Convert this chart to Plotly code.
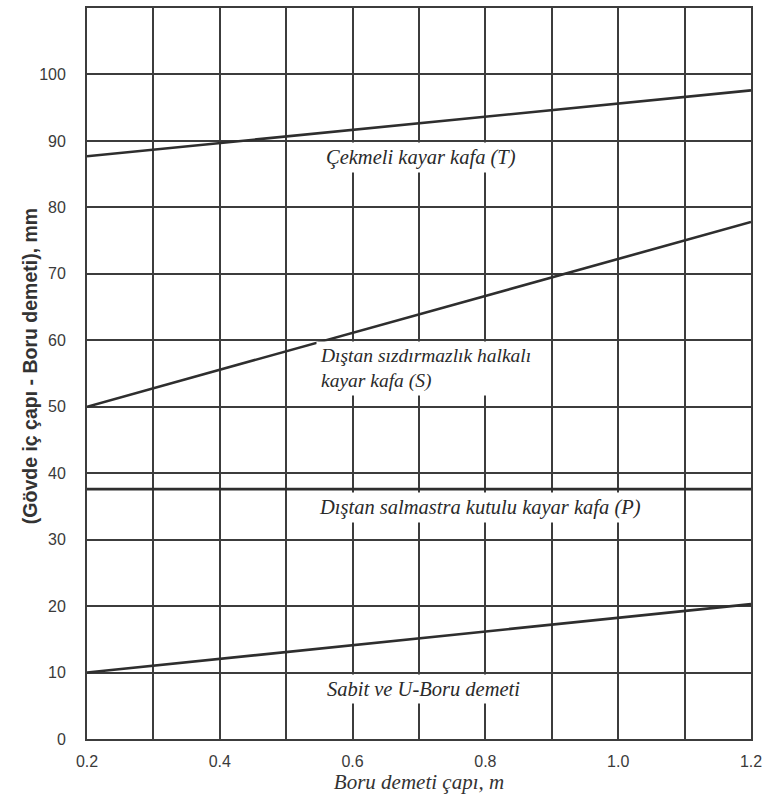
import plotly.graph_objects as go

# Tube bundle diameter (m) at the two ends of each straight line
bundle_diameter = [0.2, 1.2]

# Shell inside diameter minus bundle diameter (mm) for each head type
pull_through_T = [87.7, 97.6]
split_ring_S = [50.0, 77.8]
packed_head_P = [37.6, 37.6]
fixed_u_tube = [10.0, 20.3]

x_ticks = [0.2, 0.4, 0.6, 0.8, 1.0, 1.2]
y_ticks = [0, 10, 20, 30, 40, 50, 60, 70, 80, 90, 100]

line_color = "#2e2e2e"
grid_color = "#3c3c3c"
serif = "Liberation Serif, Times New Roman, serif"
sans = "Liberation Sans, Arial, sans-serif"

fig = go.Figure()
for ys in (pull_through_T, split_ring_S, packed_head_P, fixed_u_tube):
    fig.add_trace(go.Scatter(
        x=bundle_diameter, y=ys, mode="lines",
        line=dict(color=line_color, width=2.6),
        showlegend=False, hoverinfo="skip",
    ))

label_font = dict(family=serif, size=20.5, color="#2a2a2a")
labels = [
    dict(x=0.703, y=87.5, text="<i>Çekmeli kayar kafa (T)</i>", xanchor="center"),
    dict(x=0.545, y=55.7, text="<i>Dıştan sızdırmazlık halkalı<br>kayar kafa (S)</i>",
         xanchor="left", align="left", font=dict(family=serif, size=19.5, color="#2a2a2a")),
    dict(x=0.792, y=34.8, text="<i>Dıştan salmastra kutulu kayar kafa (P)</i>", xanchor="center"),
    dict(x=0.707, y=7.5, text="<i>Sabit ve U-Boru demeti</i>", xanchor="center"),
]
for lab in labels:
    lab.setdefault("font", label_font)
    fig.add_annotation(
        **lab, xref="x", yref="y", yanchor="middle", showarrow=False,
        bgcolor="white", borderpad=3,
    )

# Vertical axis title, set close to the tick labels
fig.add_annotation(
    text="<b>(Gövde iç çapı - Boru demeti), mm</b>",
    xref="paper", yref="paper", x=0, y=0.51, xanchor="center", yanchor="middle",
    xshift=-57, textangle=-90, showarrow=False,
    font=dict(family=sans, size=19.5, color="#333"),
)

fig.update_xaxes(
    range=[0.2, 1.2], tickvals=x_ticks, ticktext=[f"{v:.1f}" for v in x_ticks],
    showgrid=True, gridcolor=grid_color, gridwidth=1.6,
    minor=dict(dtick=0.1, tick0=0.2, showgrid=True, gridcolor=grid_color, gridwidth=1.6),
    showline=True, linecolor=grid_color, linewidth=1.8, mirror=True,
    zeroline=False, ticks="", ticklabelstandoff=7,
    tickfont=dict(family=sans, size=16, color="#3a3a3a"),
    title=dict(text="<i>Boru demeti çapı, m</i>", standoff=0,
               font=dict(family=serif, size=21, color="#333")),
)
fig.update_yaxes(
    range=[0, 110], tickvals=y_ticks,
    showgrid=True, gridcolor=grid_color, gridwidth=1.6,
    showline=True, linecolor=grid_color, linewidth=1.8, mirror=True,
    zeroline=False, ticks="", ticklabelstandoff=16,
    tickfont=dict(family=sans, size=16, color="#3a3a3a"),
)

fig.update_layout(
    width=771, height=796,
    margin=dict(l=87, r=20, t=6, b=57),
    paper_bgcolor="white", plot_bgcolor="white",
)

fig.write_html("out.html")
